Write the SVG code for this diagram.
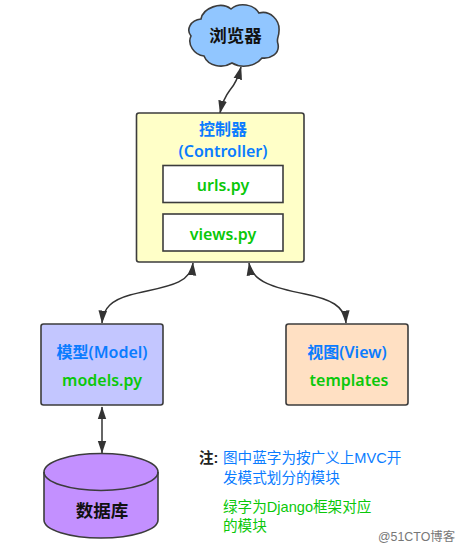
<svg xmlns="http://www.w3.org/2000/svg" width="462" height="549" viewBox="0 0 462 549">
<style>
.s{stroke:#3c3c3c;stroke-width:1.6}
.c{fill:none;stroke:#333;stroke-width:1.5;marker-start:url(#a);marker-end:url(#a)}
text{font-family:"Noto Sans","Noto Sans CJK SC",sans-serif;text-anchor:middle;font-weight:600;font-size:16px}
.b{fill:#0a7cff}.g{fill:#0ac80a}.k{fill:#111;font-weight:700;font-size:17.500px}
.n{font-size:14.600px;font-family:"Liberation Sans","Noto Sans CJK SC",sans-serif;text-anchor:start;font-weight:400}
</style>
<defs>
<marker id="a" viewBox="0 0 12 10" refX="11.500" refY="5" markerWidth="13" markerHeight="11" markerUnits="userSpaceOnUse" orient="auto-start-reverse"><path d="M0 1L12 5L0 9Z" fill="#333"/></marker>
</defs>
<g id="connectors">
<path class="c" d="M241 67Q237 82 230 90Q223 99 220 113"/>
<path class="c" d="M193 263C191 286 160 287 130 295C112 300 103 308 102 323"/>
<path class="c" d="M249 263C252 282 275 288 305 294C330 299 345 306 346 323"/>
<path class="c" d="M102 407V453"/>
</g>
<g id="browser">
<path class="s" fill="#91c6ff" d="M201 19C203 8 221 1 231 9C239 2 254 4 259 13C270 10 280 20 279 31C279 37 276 39 278 44C280 54 270 59 262 58C256 66 242 69 232 63C222 69 208 66 204 56C194 55 187 44 191 36C186 30 190 20 201 19Z"/>
<text class="k" x="235.500" y="42">浏览器</text>
</g>
<g id="controller">
<rect class="s" x="136.500" y="113" width="167.500" height="149" rx="2.500" fill="#ffffc8"/>
<text class="b" x="223" y="134.500">控制器</text>
<text class="b" x="223" y="157">(Controller)</text>
</g>
<g id="urls">
<rect class="s" x="163" y="165.500" width="120" height="37" fill="#fff"/>
<text class="g" x="223" y="190.500">urls.py</text>
</g>
<g id="views">
<rect class="s" x="163" y="214" width="120" height="37" fill="#fff"/>
<text class="g" x="223" y="239.500">views.py</text>
</g>
<g id="model">
<rect class="s" x="41" y="324" width="122" height="81" rx="2.500" fill="#c3c6ff"/>
<text class="b" x="102" y="358">模型(Model)</text>
<text class="g" x="102" y="386">models.py</text>
</g>
<g id="view">
<rect class="s" x="286" y="324" width="122" height="81" rx="2.500" fill="#ffe0c3"/>
<text class="b" x="347" y="358">视图(View)</text>
<text class="g" x="349" y="386">templates</text>
</g>
<g id="database">
<path class="s" fill="#c390ff" d="M44 472A57 18.500 0 0 1 158 472V520A57 18 0 0 1 44 520Z"/>
<path class="s" fill="none" d="M44 472A57 18.500 0 0 0 158 472"/>
<text class="k" x="102" y="517">数据库</text>
</g>
<g id="note">
<text class="n" x="199" y="463" fill="#222" style="font-weight:700">注:</text>
<text class="n b" x="223" y="463">图中蓝字为按广义上MVC开</text>
<text class="n b" x="223" y="483">发模式划分的模块</text>
<text class="n g" x="223" y="512">绿字为Django框架对应</text>
<text class="n g" x="223" y="531">的模块</text>
<text class="n" x="378" y="541" fill="#777" style="font-size:12.400px">@51CTO博客</text>
</g>
</svg>
